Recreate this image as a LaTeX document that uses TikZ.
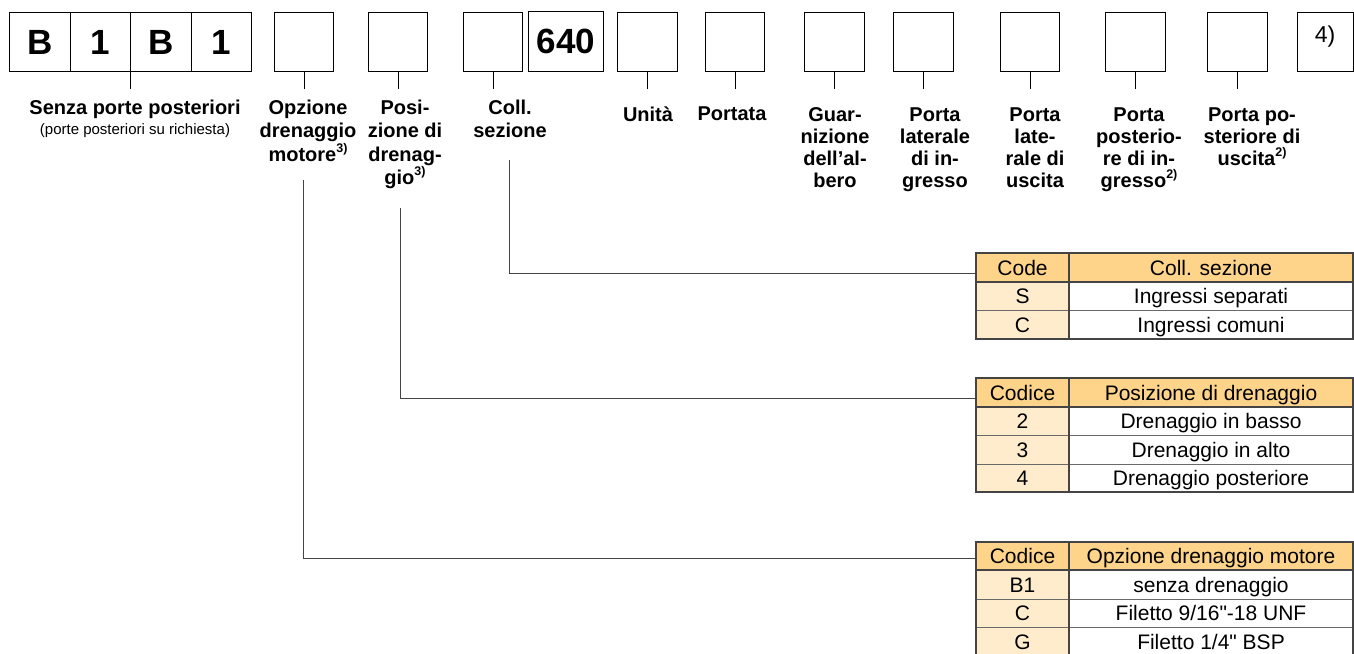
\documentclass[tikz,border=0pt]{standalone}
\usepackage{fontspec}
\setmainfont{Liberation Sans}
\newfontfamily\plainfont{Liberation Sans}
\definecolor{hdr}{RGB}{253,212,137}
\definecolor{codecol}{RGB}{254,236,205}
\definecolor{lin}{RGB}{68,68,68}
\newcommand{\supx}[1]{\raisebox{0.45em}{\fontsize{12.5}{13}\selectfont #1}}
\begin{document}
\begin{tikzpicture}[x=1pt,y=-1pt,
  box/.style={draw=black,line width=1.1pt,inner sep=0,anchor=north west,minimum height=59pt},
  digit/.style={font=\bfseries\fontsize{35}{35}\selectfont},
  tick/.style={draw=black,line width=0.9pt},
  lblA/.style={font=\bfseries\fontsize{20}{23.3}\selectfont,align=center,inner sep=0,anchor=north},
  lblB/.style={font=\bfseries\fontsize{20}{22}\selectfont,align=center,inner sep=0,anchor=north},
  conn/.style={draw=lin,line width=1pt},
  tborder/.style={draw=lin,line width=1.1pt},
  tline/.style={draw=lin!80,line width=0.9pt},
  ttext/.style={font=\plainfont\fontsize{21}{21}\selectfont,anchor=base,inner sep=0}
]
\useasboundingbox (0,0) rectangle (1354,653);
\fill[white] (0,0) rectangle (1354,653);

% --- top boxes ---
\node[box,minimum width=60.5pt,digit] (c1) at (9,12) {B};
\node[box,minimum width=60.5pt,digit] (c2) at (69.5,12) {1};
\node[box,minimum width=60.5pt,digit] (c3) at (130,12) {B};
\node[box,minimum width=60.5pt,digit] (c4) at (190.5,12) {1};
\node[box,minimum width=59pt] (b2) at (274,12) {};
\node[box,minimum width=59pt] (b3) at (368,12) {};
\node[box,minimum width=59pt] (b4) at (463,12) {};
\node[box,minimum width=75pt,minimum height=60pt,digit] (b640) at (528,11) {640};
\node[box,minimum width=60pt] (b5) at (617,12) {};
\node[box,minimum width=59pt] (b6) at (705,12) {};
\node[box,minimum width=60pt] (b7) at (804,12) {};
\node[box,minimum width=60pt] (b8) at (893,12) {};
\node[box,minimum width=59pt] (b9) at (1000,12) {};
\node[box,minimum width=60pt] (b10) at (1105,12) {};
\node[box,minimum width=60pt] (b11) at (1207,12) {};
\node[box,minimum width=56pt] (b12) at (1297,12) {};
\node[font=\fontsize{23}{23}\selectfont,inner sep=0] (n4) at (1325,37) {4)};

% --- ticks ---
\draw[tick] (c3.south west) -- ++(0,17);
\foreach \b in {b2,b3,b4,b5,b6,b7,b8,b9,b10,b11}{
  \draw[tick] (\b.south) -- ++(0,17);
}

% --- labels ---
\node[lblA] (L0) at (135,100) {Senza porte posteriori};
\node[font=\fontsize{15}{15}\selectfont,inner sep=0,anchor=north] (L0b) at (135,123) {(porte posteriori su richiesta)};
\node[lblA] (L1) at (308,100) {Opzione\\drenaggio\\motore\supx{3)}};
\node[lblA] (L2) at (405,100) {Posi-\\zione di\\drenag-\\gio\supx{3)}};
\node[lblA] (L3) at (510,100) {Coll.\\sezione};
\node[lblB] (L4) at (648,107) {Unità};
\node[lblB] (L5) at (732,107) {Portata};
\node[lblB] (L6) at (835,107) {Guar-\\nizione\\dell’al-\\bero};
\node[lblB] (L7) at (935,108) {Porta\\laterale\\di in-\\gresso};
\node[lblB] (L8) at (1035,108) {Porta\\late-\\rale di\\uscita};
\node[lblB] (L9) at (1139,108) {Porta\\posterio-\\re di in-\\gresso\supx{2)}};
\node[lblB] (L10) at (1252,108) {Porta po-\\steriore di\\uscita\supx{2)}};

% --- table 1 ---
\fill[hdr] (976,253) rectangle (1353,282);
\fill[codecol] (976,282) rectangle (1069,339);
\draw[tline] (976,310) -- (1353,310);
\draw[tborder] (976,282) -- (1353,282);
\draw[tborder] (1069,253) -- (1069,339);
\draw[tborder] (976,253) rectangle (1353,339);
\node[ttext] (t1a) at (1022.5,275) {Code};
\node[ttext] (t1b) at (1211,275) {Coll. sezione};
\node[ttext] (t1c) at (1022.5,303) {S};
\node[ttext] (t1d) at (1211,303) {Ingressi separati};
\node[ttext] (t1e) at (1022.5,332) {C};
\node[ttext] (t1f) at (1211,332) {Ingressi comuni};

% --- table 2 ---
\fill[hdr] (976,378) rectangle (1353,407);
\fill[codecol] (976,407) rectangle (1069,492);
\draw[tline] (976,435) -- (1353,435);
\draw[tline] (976,464) -- (1353,464);
\draw[tborder] (976,407) -- (1353,407);
\draw[tborder] (1069,378) -- (1069,492);
\draw[tborder] (976,378) rectangle (1353,492);
\node[ttext] (t2a) at (1022.5,400) {Codice};
\node[ttext] (t2b) at (1211,400) {Posizione di drenaggio};
\node[ttext] (t2c) at (1022.5,428) {2};
\node[ttext] (t2d) at (1211,428) {Drenaggio in basso};
\node[ttext] (t2e) at (1022.5,457) {3};
\node[ttext] (t2f) at (1211,457) {Drenaggio in alto};
\node[ttext] (t2g) at (1022.5,485) {4};
\node[ttext] (t2h) at (1211,485) {Drenaggio posteriore};

% --- table 3 ---
\fill[hdr] (976,542) rectangle (1353,570);
\fill[codecol] (976,570) rectangle (1069,657);
\draw[tline] (976,599) -- (1353,599);
\draw[tline] (976,627) -- (1353,627);
\draw[tborder] (976,570) -- (1353,570);
\draw[tborder] (1069,542) -- (1069,657);
\draw[tborder] (976,657) -- (976,542) -- (1353,542) -- (1353,657);
\node[ttext] (t3a) at (1022.5,563) {Codice};
\node[ttext] (t3b) at (1211,563) {Opzione drenaggio motore};
\node[ttext] (t3c) at (1022.5,592) {B1};
\node[ttext] (t3d) at (1211,592) {senza drenaggio};
\node[ttext] (t3e) at (1022.5,620) {C};
\node[ttext] (t3f) at (1211,620) {Filetto 9/16"-18 UNF};
\node[ttext] (t3g) at (1022.5,649) {G};
\node[ttext] (t3h) at (1211,649) {Filetto 1/4" BSP};

% --- connectors ---
\coordinate (k3) at (509,160);
\coordinate (e3) at (976,273);
\coordinate (k2) at (400,208);
\coordinate (e2) at (976,398);
\coordinate (k1) at (303.5,180);
\coordinate (e1) at (976,558);
\draw[conn] (k3) |- (e3);
\draw[conn] (k2) |- (e2);
\draw[conn] (k1) |- (e1);
\end{tikzpicture}
\end{document}
